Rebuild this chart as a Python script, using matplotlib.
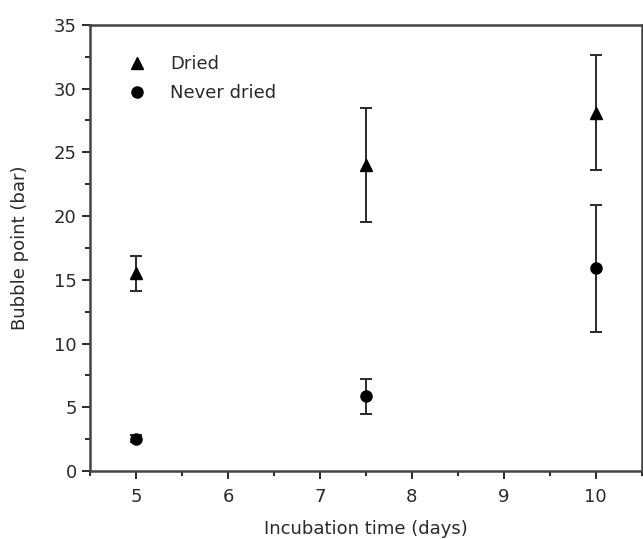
import matplotlib
matplotlib.use("Agg")
import matplotlib.pyplot as plt
from matplotlib.ticker import MultipleLocator

plt.rcParams['font.family'] = ['DejaVu Sans']

days = [5, 7.5, 10]
dried = [15.5, 24.0, 28.1]
dried_err = [1.35, 4.5, 4.5]
never_dried = [2.55, 5.85, 15.9]
never_dried_err = [0.3, 1.4, 5.0]

ink = '#2a2a2a'

fig = plt.figure(figsize=(6.43, 5.39), dpi=100)
ax = fig.add_axes([0.14, 0.126, 0.858, 0.828])

c1 = ax.errorbar(days, dried, yerr=dried_err, fmt='^', color='black', ms=9,
                 ecolor=ink, elinewidth=1.4, capsize=4.5, capthick=1.4)
c2 = ax.errorbar(days, never_dried, yerr=never_dried_err, fmt='o', color='black', ms=8,
                 ecolor=ink, elinewidth=1.4, capsize=4.5, capthick=1.4)

ax.set_xlim(4.5, 10.5)
ax.set_ylim(0, 35)
ax.xaxis.set_major_locator(MultipleLocator(1))
ax.xaxis.set_minor_locator(MultipleLocator(0.5))
ax.yaxis.set_major_locator(MultipleLocator(5))
ax.yaxis.set_minor_locator(MultipleLocator(2.5))
ax.tick_params(which='both', direction='out', colors=ink, labelsize=13, width=1.4)
ax.tick_params(which='major', length=6)
ax.tick_params(axis='x', which='major', pad=6)
ax.tick_params(which='minor', length=3.5)

for s in ax.spines.values():
    s.set_linewidth(1.8)
    s.set_color('#444444')

ax.set_xlabel('Incubation time (days)', fontsize=13, color=ink, labelpad=10)
ax.set_ylabel('Bubble point (bar)', fontsize=13, color=ink, labelpad=18)

leg = ax.legend([c1[0], c2[0]], ['Dried', 'Never dried'], loc='upper left',
                frameon=False, fontsize=13, handletextpad=1.33, handlelength=1.0,
                labelspacing=0.6, bbox_to_anchor=(0.04, 0.968))
for t in leg.get_texts():
    t.set_color(ink)

fig.savefig('out.png', dpi=100)
